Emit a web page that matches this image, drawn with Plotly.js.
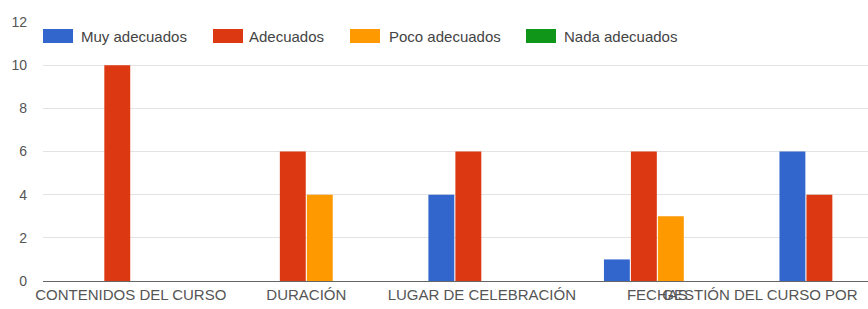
<!DOCTYPE html>
<html>
<head>
<meta charset="utf-8">
<script src="https://cdn.plot.ly/plotly-3.0.1.min.js"></script>
<style>html,body{margin:0;padding:0;background:#fff;}#chart{width:868px;height:309px;}</style>
</head>
<body>
<div id="chart"></div>
<script>
// ---- data ----
const categories = ["CONTENIDOS DEL CURSO", "DURACIÓN", "LUGAR DE CELEBRACIÓN", "FECHAS", "GESTIÓN DEL CURSO POR"];
const seriesNames = ["Muy adecuados", "Adecuados", "Poco adecuados", "Nada adecuados"];
const muyAdecuados = [0, 0, 4, 1, 6];
const adecuados = [10, 6, 6, 6, 4];
const pocoAdecuados = [0, 4, 0, 3, 0];
const nadaAdecuados = [0, 0, 0, 0, 0];
const yTicks = [0, 2, 4, 6, 8, 10, 12];

// ---- styles ----
const colors = ["#3366cc", "#dc3912", "#ff9900", "#109618"];
const FONT = "Arial, 'Liberation Sans', sans-serif";
const W = 868, H = 309, ML = 43, MR = 0, MT = 22, MB = 28;
const PW = W - ML - MR, PH = H - MT - MB;
const px2x = p => (p - ML) / PW;
const py2y = p => (H - MB - p) / PH;

const values = [muyAdecuados, adecuados, pocoAdecuados, nadaAdecuados];
const xIdx = categories.map((c, i) => i);
const traces = values.map((v, k) => ({
  type: "bar",
  x: xIdx,
  y: v,
  name: seriesNames[k],
  marker: {color: colors[k], line: {width: 0}},
  hoverinfo: "none"
}));

const ticktext = categories.map((c, i) => i === categories.length - 1 ? c + "\u00a0".repeat(35) : c);

// custom legend (swatches + labels)
const legendX = [43, 213, 350, 526];
const textX = [80, 248, 388, 563];
const shapes = [], annotations = [];
seriesNames.forEach((n, k) => {
  shapes.push({type: "rect", xref: "paper", yref: "paper",
    x0: px2x(legendX[k]), x1: px2x(legendX[k] + 30), y0: py2y(43), y1: py2y(29),
    fillcolor: colors[k], line: {width: 0}, layer: "above"});
  annotations.push({xref: "paper", yref: "paper", x: px2x(textX[k]), y: py2y(36.5),
    xanchor: "left", yanchor: "middle", showarrow: false, text: n,
    font: {family: FONT, size: 15, color: "#444"}, borderpad: 0});
});

const layout = {
  width: W, height: H,
  margin: {l: ML, r: MR, t: MT, b: MB, pad: 0},
  paper_bgcolor: "#fff", plot_bgcolor: "#fff",
  showlegend: false,
  barmode: "group",
  bargap: 0.385,
  bargroupgap: 0.04,
  xaxis: {
    range: [-0.5, 4.2],
    tickvals: xIdx, ticktext: ticktext, tickangle: 0,
    ticklabeloverflow: "allow",
    showgrid: false, zeroline: false, showline: true, linecolor: "#666", linewidth: 1,
    ticks: "", tickfont: {family: FONT, size: 15, color: "#555"},
    fixedrange: true
  },
  yaxis: {
    range: [0, 12], tickvals: yTicks, ticktext: yTicks.map(String),
    showgrid: true, gridcolor: "#e3e3e3", gridwidth: 1,
    zeroline: false, showline: false, ticks: "",
    ticklabelstandoff: 15,
    tickfont: {family: FONT, size: 14, color: "#555"},
    fixedrange: true
  },
  shapes: shapes,
  annotations: annotations
};

Plotly.newPlot("chart", traces, layout, {staticPlot: true, displayModeBar: false});
</script>
</body>
</html>
